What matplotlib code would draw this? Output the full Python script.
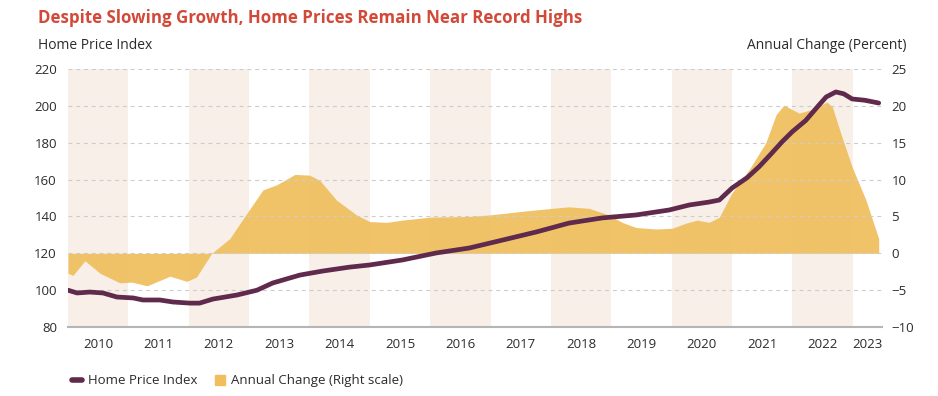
import numpy as np
from matplotlib import pyplot as plt
from matplotlib.lines import Line2D
from matplotlib.patches import Patch

# Home price index (left scale)
hpi_years = [2010.00, 2010.15, 2010.36, 2010.58, 2010.81, 2011.08, 2011.24, 2011.52,
             2011.74, 2012.02, 2012.18, 2012.40, 2012.80, 2013.13, 2013.39, 2013.84,
             2014.22, 2014.66, 2015.00, 2015.54, 2016.10, 2016.65, 2017.20, 2017.76,
             2018.30, 2018.85, 2019.41, 2019.96, 2020.29, 2020.62, 2020.79, 2021.00,
             2021.25, 2021.45, 2021.65, 2021.83, 2022.00, 2022.22, 2022.43, 2022.56,
             2022.72, 2022.85, 2022.99, 2023.20, 2023.43]
hpi_values = [100.0, 98.5, 99.0, 98.5, 96.3, 95.8, 94.7, 94.7,
              93.6, 93.0, 93.0, 95.2, 97.4, 100.0, 103.9, 108.2,
              110.4, 112.5, 113.7, 116.4, 120.2, 122.9, 127.2, 131.6,
              136.4, 139.2, 140.8, 143.5, 146.2, 147.8, 148.9, 155.4,
              161.0, 167.0, 174.0, 180.5, 186.0, 192.0, 200.0, 204.8,
              207.5, 206.5, 203.7, 203.0, 201.5]

# Annual change in percent (right scale)
chg_years = [2010.00, 2010.08, 2010.28, 2010.53, 2010.86, 2011.06, 2011.31, 2011.69,
             2011.97, 2012.13, 2012.38, 2012.68, 2012.96, 2013.23, 2013.46, 2013.76,
             2014.00, 2014.17, 2014.45, 2014.78, 2015.00, 2015.28, 2015.54, 2015.99,
             2016.65, 2016.98, 2017.53, 2018.02, 2018.30, 2018.63, 2018.96, 2019.18,
             2019.41, 2019.74, 2020.01, 2020.24, 2020.42, 2020.62, 2020.79, 2021.00,
             2021.28, 2021.56, 2021.73, 2021.86, 2022.11, 2022.32, 2022.57, 2022.66,
             2022.82, 2022.99, 2023.22, 2023.43]
chg_values = [-2.7, -3.0, -1.0, -2.7, -4.0, -3.9, -4.4, -3.1,
              -3.8, -3.2, 0.0, 2.0, 5.4, 8.6, 9.3, 10.7,
              10.6, 9.9, 7.2, 5.2, 4.3, 4.2, 4.5, 4.9,
              5.0, 5.2, 5.7, 6.1, 6.3, 6.1, 5.2, 4.2,
              3.5, 3.3, 3.4, 4.1, 4.5, 4.2, 4.9, 8.2,
              11.3, 15.0, 18.8, 20.1, 19.0, 19.5, 20.5, 19.9,
              15.8, 11.7, 7.2, 2.0]

year_labels = [str(y) for y in range(2010, 2024)]
band_years = [2010, 2012, 2014, 2016, 2018, 2020, 2022]

x_start, x_end = 2010.0, 2023.48

title_color = "#D2493A"
line_color = "#5F2A4C"
area_color = "#F0BE5C"
band_color = "#F7EFE8"
text_color = "#2B2B2B"
font = "Open Sans"

plt.rcParams['font.family'] = [font, 'DejaVu Sans']

fig = plt.figure(figsize=(9.38, 3.96), dpi=100)
ax = fig.add_axes([0.0725, 0.174, 0.8675, 0.652])
ax2 = ax.twinx()
ax.set_zorder(ax2.get_zorder() + 1)
ax.patch.set_visible(False)

for y in band_years:
    ax2.axvspan(y, min(y + 1, x_end), color=band_color, lw=0, zorder=0)

ax2.fill_between(chg_years, 0, chg_values, color=area_color, alpha=0.92, lw=0, zorder=2)
ax.plot(hpi_years, hpi_values, color=line_color, lw=3.4, solid_capstyle='round',
        solid_joinstyle='round', zorder=3)

ax.set_xlim(x_start, x_end)
ax.set_ylim(80, 220)
ax2.set_ylim(-10, 25)
ax.set_yticks(range(80, 221, 20))
ax2.set_yticks(range(-10, 26, 5))

tick_pos = [y + 0.5 for y in range(2010, 2023)] + [(2023 + x_end) / 2]
ax.set_xticks(tick_pos)
ax.set_xticklabels(year_labels)

for a in (ax, ax2):
    for s in a.spines.values():
        s.set_visible(False)
    a.tick_params(length=0, labelsize=9.5, colors=text_color)
ax.tick_params(axis='y', pad=8)
ax2.tick_params(axis='y', pad=7)
ax.tick_params(axis='x', pad=8)
ax.spines['bottom'].set_visible(True)
ax.spines['bottom'].set_color("#B5B5B5")
ax.spines['bottom'].set_linewidth(1.5)

ax.grid(axis='y', color="#CCCCCC", ls=(0, (3.5, 3.5)), lw=0.8)
ax.grid(axis='x', visible=False)

fig.text(0.0405, 0.955, "Despite Slowing Growth, Home Prices Remain Near Record Highs",
         color=title_color, fontsize=12.2, fontweight='bold', va='center')
fig.text(0.0405, 0.885, "Home Price Index", color=text_color, fontsize=10, va='center')
fig.text(0.966, 0.885, "Annual Change (Percent)", color=text_color, fontsize=10,
         va='center', ha='right')

handles = [Line2D([0], [0], color=line_color, lw=4, solid_capstyle='round'),
           Patch(color=area_color)]
fig.legend(handles, ["Home Price Index", "Annual Change (Right scale)"],
           loc='center left', bbox_to_anchor=(0.064, 0.038), ncol=2, frameon=False,
           fontsize=9.5, handlelength=0.8, handleheight=0.8, columnspacing=1.3,
           handletextpad=0.45, labelcolor=text_color)

fig.savefig("out.png", dpi=100)
